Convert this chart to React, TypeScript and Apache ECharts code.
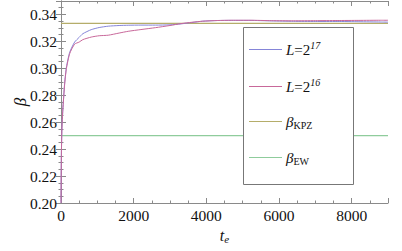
import React, { useEffect, useRef } from "react";
import * as echarts from "echarts";

const T = [0, 10, 25, 50, 100, 150, 240, 375, 500, 600, 830, 1050, 1300, 1600, 1850, 2200, 2600, 3000, 3300, 3600, 3900, 4300, 4700, 5200, 5800, 6400, 7000, 7600, 8200, 8800, 9000];
const BETA_L17 = [0.2, 0.235, 0.255, 0.269, 0.289, 0.301, 0.312, 0.3195, 0.323, 0.3257, 0.3287, 0.3303, 0.3313, 0.3318, 0.332, 0.3321, 0.3321, 0.3323, 0.333, 0.334, 0.335, 0.3355, 0.3356, 0.3356, 0.3352, 0.3349, 0.3348, 0.3348, 0.3346, 0.3344, 0.3343];
const BETA_L16 = [0.2, 0.235, 0.255, 0.269, 0.288, 0.3, 0.311, 0.318, 0.3195, 0.3213, 0.3232, 0.3242, 0.3246, 0.3262, 0.3275, 0.3288, 0.3302, 0.3318, 0.3332, 0.3342, 0.335, 0.3355, 0.3357, 0.3357, 0.3354, 0.3353, 0.3354, 0.3355, 0.3356, 0.3357, 0.3357];
const BETA_KPZ = 1 / 3;
const BETA_EW = 0.25;
const X_RANGE = [0, 9000];
const Y_RANGE = [0.2, 0.35];
const Y_NAME = "β";

const SERIF = "Liberation Serif, Times New Roman, Times, serif";
const FRAME = "#8a8a8a";

export default function App() {
  const ref = useRef<HTMLDivElement>(null);
  useEffect(() => {
    const chart = echarts.init(ref.current!, null, { renderer: "svg" });
    const legendText: Record<string, string> = {
      L17: "{i|L}{r|=2}{sup|17}",
      L16: "{i|L}{r|=2}{sup|16}",
      KPZ: "{i|β}{sub|KPZ}",
      EW: "{i|β}{sub|EW}",
    };
    const axisCommon = {
      axisLine: { show: true, lineStyle: { color: FRAME, width: 1 } },
      axisTick: { show: true, inside: true, length: 5, lineStyle: { color: FRAME } },
      minorTick: { show: true, splitNumber: 4, length: 2.5, lineStyle: { color: FRAME } },
      splitLine: { show: false },
    };
    chart.setOption({
      animation: false,
      backgroundColor: "#fff",
      textStyle: { fontFamily: SERIF },
      grid: { left: 61, right: 14, top: 1, bottom: 48, containLabel: false, outerBoundsMode: "none" },
      xAxis: [
        {
          type: "value",
          min: X_RANGE[0],
          max: X_RANGE[1],
          interval: 2000,
          position: "bottom",
          ...axisCommon,
          axisLabel: {
            fontFamily: SERIF,
            fontSize: 15.5,
            color: "#111",
            margin: 4,
            showMaxLabel: false,
            formatter: (v: number) => String(v),
          },
          name: "{i|t}{sub|e}",
          nameLocation: "middle",
          nameGap: 23,
          nameMoveOverlap: false,
          nameTextStyle: {
            rich: {
              i: { fontFamily: SERIF, fontStyle: "italic", fontSize: 16, color: "#111" },
              sub: { fontFamily: SERIF, fontStyle: "italic", fontSize: 11, color: "#111", padding: [7, 0, 0, 0] },
            },
          },
        },
        {
          type: "value",
          min: X_RANGE[0],
          max: X_RANGE[1],
          interval: 2000,
          position: "top",
          ...axisCommon,
          axisLabel: { show: false },
        },
      ],
      yAxis: [
        {
          type: "value",
          min: Y_RANGE[0],
          max: Y_RANGE[1],
          interval: 0.02,
          position: "left",
          ...axisCommon,
          axisLabel: {
            fontFamily: SERIF,
            fontSize: 15.5,
            color: "#111",
            margin: 4,
            formatter: (v: number) => v.toFixed(2),
            showMaxLabel: false,
          },
        },
        {
          type: "value",
          min: Y_RANGE[0],
          max: Y_RANGE[1],
          interval: 0.02,
          position: "right",
          ...axisCommon,
          axisLabel: { show: false },
        },
      ],
      legend: {
        orient: "vertical",
        left: 249,
        top: 40,
        padding: 0,
        itemWidth: 33,
        itemHeight: 1,
        itemGap: 20,
        icon: "rect",
        data: ["L17", "L16", "KPZ", "EW"],
        formatter: (n: string) => legendText[n],
        textStyle: {
          padding: [0, 0, 0, -1],
          rich: {
            i: { fontFamily: SERIF, fontStyle: "italic", fontSize: 15, color: "#111", height: 18 },
            r: { fontFamily: SERIF, fontSize: 15, color: "#111", height: 18 },
            sup: { fontFamily: SERIF, fontStyle: "italic", fontSize: 10, color: "#111", padding: [0, 0, 9, 0] },
            sub: { fontFamily: SERIF, fontSize: 10, color: "#111", padding: [7, 0, 0, 0] },
          },
        },
      },
      graphic: [
        {
          type: "rect",
          z: 3,
          shape: { x: 243.5, y: 27.5, width: 110, height: 157 },
          style: { fill: "#fff", stroke: "#777", lineWidth: 1 },
        },
        {
          type: "text",
          z: 3,
          x: 20,
          y: 102,
          rotation: Math.PI / 2,
          style: {
            text: Y_NAME,
            fontFamily: SERIF,
            fontStyle: "italic",
            fontSize: 17,
            fill: "#111",
            align: "center",
            verticalAlign: "middle",
          },
        },
      ],
      series: [
        {
          name: "KPZ",
          type: "line",
          symbol: "none",
          data: [[X_RANGE[0], BETA_KPZ], [X_RANGE[1], BETA_KPZ]],
          lineStyle: { color: "#b5ad6a", width: 1.2 },
          itemStyle: { color: "#b5ad6a" },
          z: 1,
        },
        {
          name: "EW",
          type: "line",
          symbol: "none",
          data: [[X_RANGE[0], BETA_EW], [X_RANGE[1], BETA_EW]],
          lineStyle: { color: "#8fcc9c", width: 1.2 },
          itemStyle: { color: "#8fcc9c" },
          z: 1,
        },
        {
          name: "L17",
          type: "line",
          symbol: "none",
          smooth: 0.2,
          data: T.map((t, i) => [t, BETA_L17[i]]),
          lineStyle: { color: "#8585d8", width: 1 },
          itemStyle: { color: "#8585d8" },
          z: 2,
        },
        {
          name: "L16",
          type: "line",
          symbol: "none",
          smooth: 0.2,
          data: T.map((t, i) => [t, BETA_L16[i]]),
          lineStyle: { color: "#c8689a", width: 1 },
          itemStyle: { color: "#c8689a" },
          z: 2,
        },
      ],
    });
    return () => chart.dispose();
  }, []);
  return <div ref={ref} style={{ position: "fixed", left: 0, top: 0, width: 402, height: 251 }} />;
}
